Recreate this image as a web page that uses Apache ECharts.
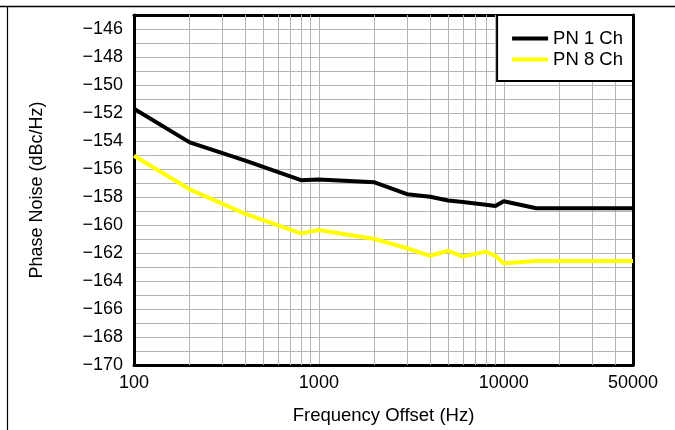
<!DOCTYPE html>
<html>
<head>
<meta charset="utf-8">
<script src="https://cdn.jsdelivr.net/npm/echarts@6/dist/echarts.min.js"></script>
<style>
  html, body { margin: 0; padding: 0; background: #fff; }
  #chart { width: 675px; height: 430px; }
</style>
</head>
<body>
<div id="chart"></div>
<script>
// ---- Data ----
var freqs = [100, 200, 400, 800, 1000, 2000, 3000, 4000, 5000, 6000, 8000, 9000, 10000, 15000, 50000];
var pn1ch = [-151.7, -154.1, -155.4, -156.8, -156.75, -156.95, -157.8, -157.98, -158.25, -158.36, -158.55, -158.65, -158.3, -158.8, -158.8];
var pn8ch = [-155.05, -157.45, -159.2, -160.6, -160.36, -161.0, -161.66, -162.2, -161.84, -162.26, -161.9, -162.2, -162.74, -162.57, -162.57];
var seriesNames = ['PN 1 Ch', 'PN 8 Ch'];
var xTickLabels = [100, 1000, 10000, 50000];
var minorGridX = [200, 300, 400, 500, 600, 700, 800, 900, 2000, 3000, 4000, 5000, 6000, 7000, 8000, 9000, 20000, 30000, 40000];
var yMin = -170, yMax = -145;

var FONT = '"Liberation Sans", Arial, sans-serif';
var GRID_COLOR = '#b4b4b4';

function pairs(xs, ys) { return xs.map(function (x, i) { return [x, ys[i]]; }); }

var chart = echarts.init(document.getElementById('chart'), null, { renderer: 'canvas' });

var option = {
  animation: false,
  backgroundColor: '#fff',
  textStyle: { fontFamily: FONT },
  grid: { left: 134, right: 42, top: 15, bottom: 65, containLabel: false, outerBoundsMode: 'none' },
  legend: {
    data: seriesNames,
    orient: 'vertical',
    right: 42,
    top: 15,
    icon: 'rect',
    itemWidth: 36,
    itemHeight: 4,
    itemGap: 2,
    padding: [14, 10, 12, 15],
    backgroundColor: '#fff',
    borderColor: '#000',
    borderWidth: 2,
    textStyle: { fontFamily: FONT, fontSize: 18.5, color: '#000' },
    z: 10
  },
  xAxis: [{
    type: 'log',
    logBase: 10,
    min: 100,
    max: 50000,
    name: 'Frequency Offset (Hz)',
    nameLocation: 'middle',
    nameGap: 41,
    nameTextStyle: { fontFamily: FONT, fontSize: 18.5, color: '#000' },
    axisLine: { show: true, lineStyle: { color: '#000', width: 3 } },
    axisTick: { show: false },
    axisLabel: {
      fontFamily: FONT, fontSize: 18, color: '#000', margin: 9,
      showMaxLabel: true,
      formatter: function (v) {
        var r = Math.round(v);
        return xTickLabels.indexOf(r) >= 0 ? String(r) : '';
      }
    },
    splitLine: { show: true, lineStyle: { color: GRID_COLOR, width: 1 } }
  }, {
    type: 'log',
    logBase: 10,
    min: 100,
    max: 50000,
    position: 'top',
    axisLine: { show: true, lineStyle: { color: '#000', width: 3 } },
    axisTick: { show: false },
    axisLabel: { show: false },
    splitLine: { show: false }
  }],
  yAxis: [{
    type: 'value',
    min: yMin,
    max: yMax,
    interval: 1,
    name: 'Phase Noise (dBc/Hz)',
    nameLocation: 'middle',
    nameGap: 88,
    nameRotate: 90,
    nameTextStyle: { fontFamily: FONT, fontSize: 18, color: '#000' },
    axisLine: { show: true, lineStyle: { color: '#000', width: 3 } },
    axisTick: { show: false },
    axisLabel: {
      fontFamily: FONT, fontSize: 18, color: '#000', margin: 11,
      formatter: function (v) {
        var r = Math.round(v);
        if (r % 2 !== 0) return '';
        return String(r).replace('-', '\u2212');
      }
    },
    splitLine: { show: true, lineStyle: { color: GRID_COLOR, width: 1 } }
  }, {
    type: 'value',
    min: yMin,
    max: yMax,
    interval: 1,
    position: 'right',
    axisLine: { show: true, lineStyle: { color: '#000', width: 3 } },
    axisTick: { show: false },
    axisLabel: { show: false },
    splitLine: { show: false }
  }],
  graphic: [
    { type: 'line', shape: { x1: 0, y1: 6.5, x2: 675, y2: 6.5 }, style: { stroke: '#000', lineWidth: 1.5 }, silent: true },
    { type: 'line', shape: { x1: 7.5, y1: 6, x2: 7.5, y2: 430 }, style: { stroke: '#000', lineWidth: 1.2 }, silent: true }
  ],
  series: [{
    name: seriesNames[0],
    type: 'line',
    data: pairs(freqs, pn1ch),
    showSymbol: false,
    lineStyle: { color: '#000', width: 4 },
    itemStyle: { color: '#000' },
    z: 5,
    markLine: {
      silent: true,
      symbol: ['none', 'none'],
      label: { show: false },
      lineStyle: { color: GRID_COLOR, width: 1, type: 'solid' },
      emphasis: { disabled: true },
      z: 1,
      data: minorGridX.map(function (v) { return { xAxis: v }; })
    }
  }, {
    name: seriesNames[1],
    type: 'line',
    data: pairs(freqs, pn8ch),
    showSymbol: false,
    lineStyle: { color: '#ffff00', width: 4 },
    itemStyle: { color: '#ffff00' },
    z: 4
  }]
};
chart.setOption(option);
</script>
</body>
</html>
